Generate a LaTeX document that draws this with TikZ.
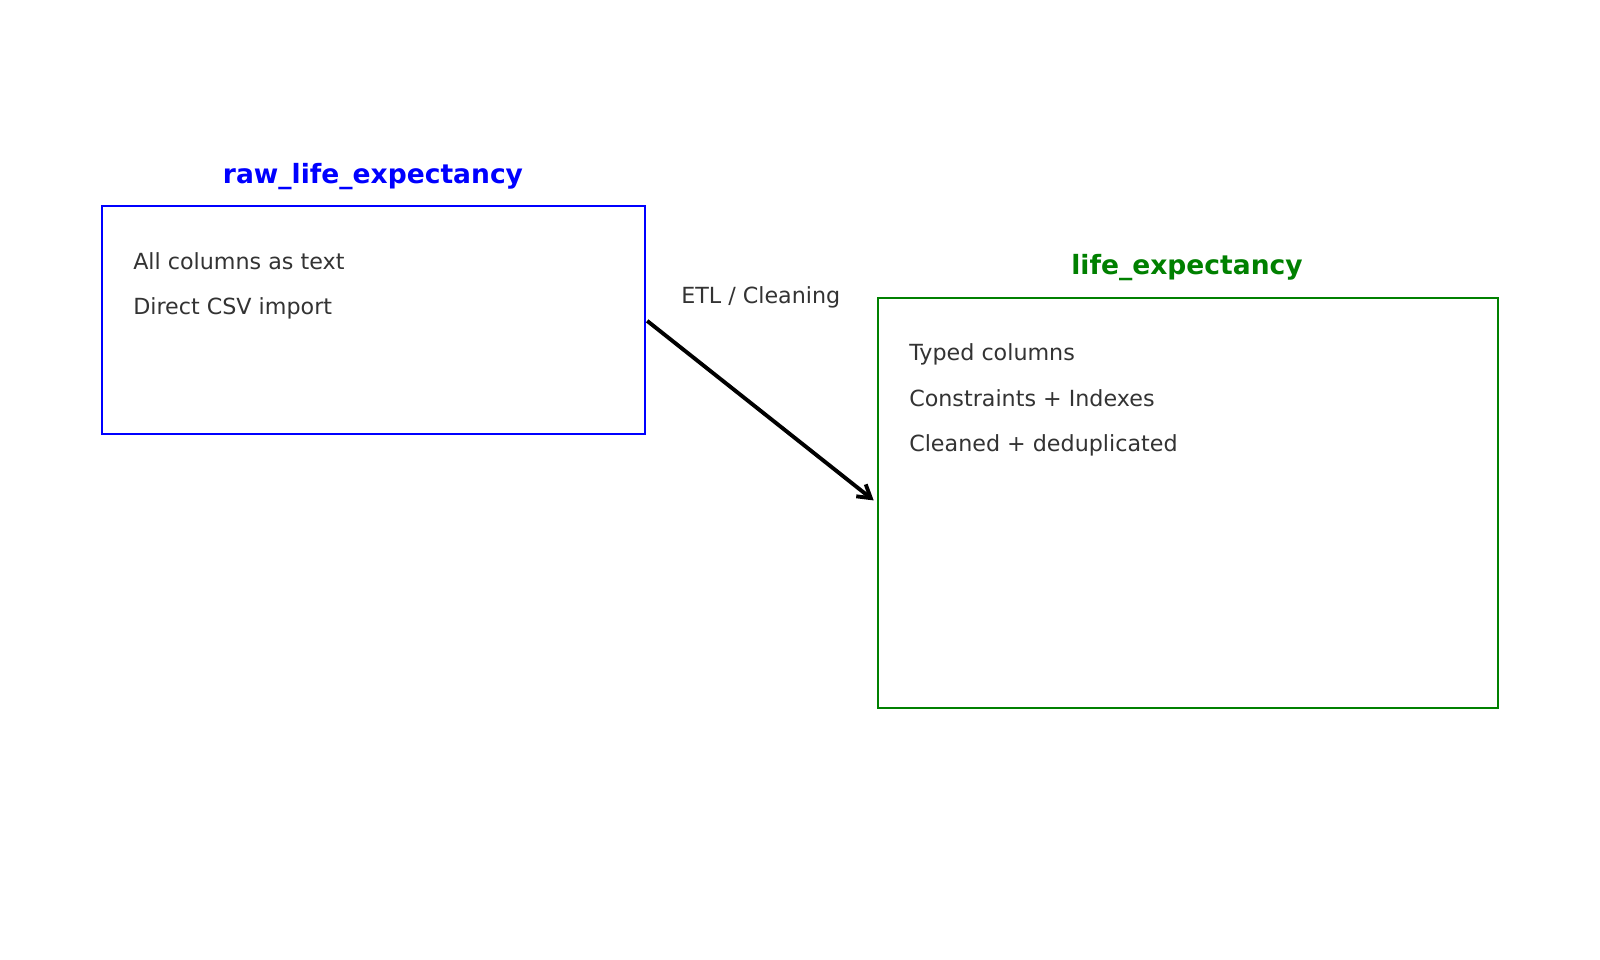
\documentclass[tikz,border=0pt]{standalone}
\usepackage{fontspec}
\setmainfont{DejaVu Sans}
\usetikzlibrary{arrows.meta}
\definecolor{txtgray}{HTML}{333333}
\definecolor{mplgreen}{RGB}{0,128,0}
\definecolor{mplblue}{RGB}{0,0,255}
\begin{document}
\begin{tikzpicture}[x=0.72pt,y=-0.72pt,
  titletext/.style={font=\fontsize{19.1}{23}\selectfont\bfseries, inner sep=0pt},
  bodytext/.style={font=\fontsize{16}{19}\selectfont, text=txtgray, inner sep=0pt, anchor=west, text height=11.7pt, text depth=0pt},
  flow/.style={line width=2.8pt, -{Straight Barb[length=9pt,width=11pt,line width=2.8pt]}, shorten >=3pt, shorten <=1pt}
]
\path[use as bounding box, fill=white] (0,0) rectangle (1600,960);
% boxes
\node[draw=mplblue, line width=1.5pt, inner sep=0pt, minimum width=391pt, minimum height=164.2pt] (raw) at (373.5,320) {};
\node[draw=mplgreen, line width=1.5pt, inner sep=0pt, minimum width=446.4pt, minimum height=295.2pt] (life) at (1188,503) {};
% titles
\node[titletext, text=mplblue] (rawtitle) at (373,177) {raw\_life\_expectancy};
\node[titletext, text=mplgreen] (lifetitle) at (1187,268) {life\_expectancy};
% body texts
\node[bodytext] (r1) at (133,261) {All columns as text};
\node[bodytext] (r2) at (133,306.5) {Direct CSV import};
\node[bodytext] (l1) at (909,352.5) {Typed columns};
\node[bodytext] (l2) at (909,398) {Constraints + Indexes};
\node[bodytext] (l3) at (909,443.5) {Cleaned + deduplicated};
% connector
\node[bodytext] (etl) at (681,295.5) {ETL / Cleaning};
\draw[flow] (raw.east) -- (life.west);
\end{tikzpicture}
\end{document}
